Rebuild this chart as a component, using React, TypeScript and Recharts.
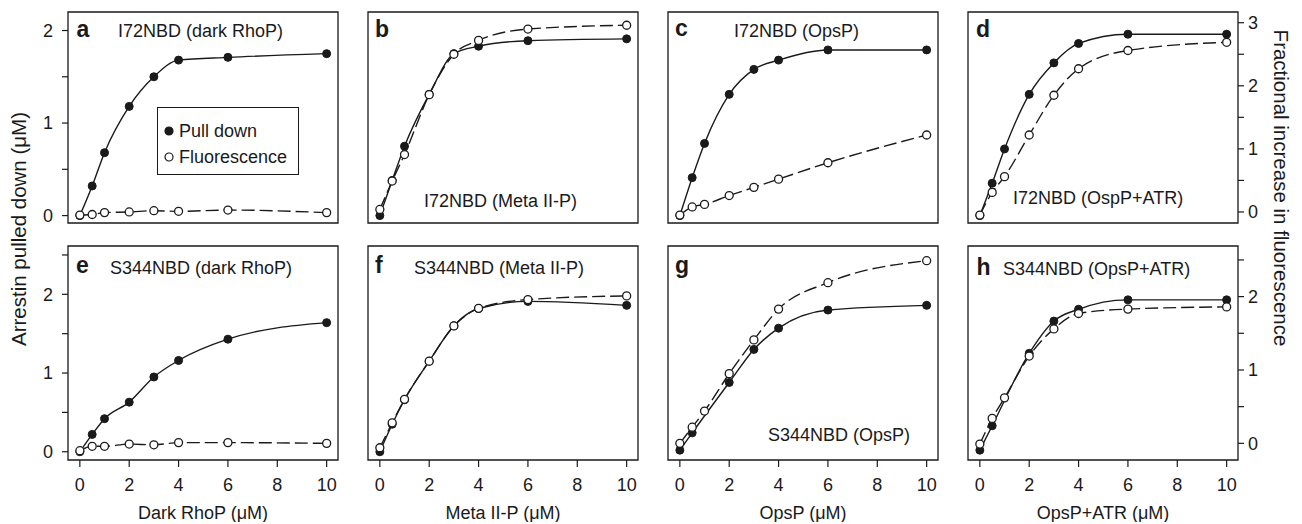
import { LineChart, Line, XAxis, YAxis, ReferenceArea, Legend } from 'recharts'

const FONT = '"Liberation Sans", Arial, Helvetica, sans-serif'
const INK = '#1a1a1a'

// concentrations (µM) used in every panel
const conc = [0, 0.5, 1, 2, 3, 4, 6, 10]
const xTicks = [0, 2, 4, 6, 8, 10]
const leftTicksTop = [0, 0.5, 1, 1.5, 2]
const leftTicksBottom = [0, 0.5, 1, 1.5, 2, 2.5]
const rightTicksTop = [0, 0.5, 1, 1.5, 2, 2.5, 3]
const rightTicksBottom = [0, 0.5, 1, 1.5, 2, 2.5]

// pull down (left axis, µM) / fluorescence increase (right axis)
const pullA = [0, 0.32, 0.68, 1.18, 1.5, 1.68, 1.71, 1.75]
const fluorA = [-0.05, -0.04, -0.01, 0.0, 0.02, 0.01, 0.03, -0.01]
const pullB = [0, 0.38, 0.75, 1.31, 1.75, 1.83, 1.89, 1.91]
const fluorB = [0.04, 0.49, 0.91, 1.86, 2.5, 2.72, 2.9, 2.96]
const pullC = [0, 0.41, 0.78, 1.31, 1.58, 1.68, 1.79, 1.79]
const fluorC = [-0.05, 0.08, 0.12, 0.26, 0.39, 0.52, 0.78, 1.22]
const pullD = [0, 0.35, 0.72, 1.31, 1.65, 1.86, 1.96, 1.96]
const fluorD = [-0.05, 0.31, 0.56, 1.22, 1.85, 2.27, 2.56, 2.69]
const pullE = [0, 0.22, 0.42, 0.63, 0.95, 1.16, 1.43, 1.64]
const fluorE = [-0.1, -0.04, -0.04, -0.01, -0.02, 0.01, 0.01, 0.0]
const pullF = [0, 0.35, 0.66, 1.15, 1.6, 1.82, 1.91, 1.86]
const fluorF = [-0.06, 0.28, 0.6, 1.12, 1.6, 1.84, 1.96, 2.01]
const pullG = [0.02, 0.24, null, 0.88, 1.3, 1.57, 1.8, 1.86]
const fluorG = [0.0, 0.22, 0.44, 0.95, 1.41, 1.83, 2.19, 2.49]
const pullH = [0.02, 0.33, null, 1.25, 1.66, 1.81, 1.93, 1.93]
const fluorH = [-0.01, 0.34, 0.62, 1.19, 1.56, 1.77, 1.83, 1.86]

const xLabels = ['Dark RhoP (μM)', 'Meta II-P (μM)', 'OpsP (μM)', 'OpsP+ATR (μM)']
const seriesNames = ['Pull down', 'Fluorescence']

const toPts = (ys: (number | null)[]) =>
  conc.map((x, i) => ({ x, y: ys[i] })).filter((p) => p.y !== null)

const AXW = 45
const XDOM: [number, number] = [-0.48, 10.46]

const rows = [
  { top: 12, h: 211, left: [-0.08, 2.2], right: [-0.175, 3.17], lt: leftTicksTop, rt: rightTicksTop },
  { top: 246, h: 214, left: [-0.105, 2.614], right: [-0.227, 2.69], lt: leftTicksBottom, rt: rightTicksBottom },
]

const panels = [
  { key: 'a', row: 0, col: 0, pull: pullA, fluor: fluorA, title: 'I72NBD (dark RhoP)', tx: 118, ty: 36.5, lx: 76.5, ly: 36.5 },
  { key: 'b', row: 0, col: 1, pull: pullB, fluor: fluorB, title: 'I72NBD (Meta II-P)', tx: 424, ty: 206.5, lx: 375, ly: 36.5 },
  { key: 'c', row: 0, col: 2, pull: pullC, fluor: fluorC, title: 'I72NBD (OpsP)', tx: 734, ty: 36.5, lx: 675, ly: 36 },
  { key: 'd', row: 0, col: 3, pull: pullD, fluor: fluorD, title: 'I72NBD (OspP+ATR)', tx: 1013, ty: 204, lx: 976, ly: 36.5 },
  { key: 'e', row: 1, col: 0, pull: pullE, fluor: fluorE, title: 'S344NBD (dark RhoP)', tx: 110, ty: 273.5, lx: 76, ly: 273 },
  { key: 'f', row: 1, col: 1, pull: pullF, fluor: fluorF, title: 'S344NBD (Meta II-P)', tx: 414, ty: 274, lx: 375, ly: 273 },
  { key: 'g', row: 1, col: 2, pull: pullG, fluor: fluorG, title: 'S344NBD (OpsP)', tx: 768, ty: 440.5, lx: 675, ly: 273 },
  { key: 'h', row: 1, col: 3, pull: pullH, fluor: fluorH, title: 'S344NBD (OpsP+ATR)', tx: 1003, ty: 275, lx: 976.5, ly: 275 },
]

const intOnly = (v: number) => (Number.isInteger(v) ? String(v) : '')
const tickStyle = { fill: INK, fontSize: 18, fontFamily: FONT }

const LegendBox = (props: any) => {
  const items = [...(props.payload || [])].sort(
    (a: any, b: any) => seriesNames.indexOf(a.value) - seriesNames.indexOf(b.value),
  )
  return (
    <div
      style={{
        boxSizing: 'border-box',
        width: 142,
        height: 68,
        border: `1.3px solid ${INK}`,
        background: '#fff',
        padding: '10px 0 0 6px',
        fontFamily: FONT,
        fontSize: 18,
        color: INK,
      }}
    >
      {items.map((e: any) => (
        <div key={e.value} style={{ display: 'flex', alignItems: 'center', height: 26 }}>
          <svg width={10} height={10} style={{ marginRight: 5 }}>
            <circle cx={5} cy={5} r={4} fill={e.value === 'Pull down' ? INK : '#fff'} stroke={INK} strokeWidth={1.2} />
          </svg>
          <span>{e.value}</span>
        </div>
      ))}
    </div>
  )
}

function Panel({ p }: { p: (typeof panels)[number] }) {
  const row = rows[p.row]
  const first = p.col === 0
  const last = p.col === 3
  const bottom = p.row === 1
  const boxLeft = 68 + 300 * p.col
  const chartLeft = boxLeft - AXW
  const chartTop = row.top - 5
  return (
    <div style={{ position: 'absolute', left: chartLeft, top: chartTop }}>
      <LineChart width={270 + 2 * AXW} height={5 + row.h + 62} margin={{ top: 5, right: 0, bottom: 0, left: 0 }}>
        <XAxis
          dataKey="x"
          type="number"
          domain={XDOM}
          ticks={xTicks}
          allowDataOverflow
          interval={0}
          height={62}
          axisLine={false}
          tickLine={{ stroke: INK, strokeWidth: 1.2 }}
          tickSize={7}
          tickMargin={11}
          tick={bottom ? tickStyle : false}
          label={
            bottom
              ? { value: xLabels[p.col], position: 'insideBottom', offset: 3, fill: INK, fontSize: 18, fontFamily: FONT }
              : undefined
          }
        />
        <YAxis
          yAxisId="left"
          orientation="left"
          type="number"
          width={AXW}
          domain={row.left}
          ticks={row.lt}
          allowDataOverflow
          interval={0}
          axisLine={false}
          tickLine={{ stroke: INK, strokeWidth: 1.2 }}
          tickSize={6}
          tickMargin={9}
          tick={first ? tickStyle : false}
          tickFormatter={intOnly}
        />
        <YAxis
          yAxisId="right"
          orientation="right"
          type="number"
          width={AXW}
          domain={row.right}
          ticks={row.rt}
          allowDataOverflow
          interval={0}
          axisLine={false}
          tickLine={{ stroke: INK, strokeWidth: 1.2 }}
          tickSize={6}
          tickMargin={4}
          tick={last ? tickStyle : false}
          tickFormatter={intOnly}
        />
        <ReferenceArea
          yAxisId="left"
          x1={XDOM[0]}
          x2={XDOM[1]}
          y1={row.left[0]}
          y2={row.left[1]}
          fill="none"
          stroke={INK}
          strokeWidth={1.3}
          ifOverflow="visible"
        />
        <Line
          yAxisId="left"
          name={seriesNames[0]}
          data={toPts(p.pull)}
          dataKey="y"
          type="monotone"
          stroke={INK}
          strokeWidth={1.4}
          dot={{ r: 4, fill: INK, stroke: INK, strokeWidth: 1 }}
          activeDot={false}
          isAnimationActive={false}
        />
        <Line
          yAxisId="right"
          name={seriesNames[1]}
          data={toPts(p.fluor)}
          dataKey="y"
          type="monotone"
          stroke={INK}
          strokeWidth={1.4}
          strokeDasharray="13 5"
          dot={{ r: 4, fill: '#fff', stroke: INK, strokeWidth: 1.3, strokeDasharray: 'none' }}
          activeDot={false}
          isAnimationActive={false}
        />
        {p.key === 'a' && (
          <Legend
            layout="vertical"
            align="center"
            verticalAlign="middle"
            content={LegendBox}
            wrapperStyle={{ left: 157 - chartLeft, top: 107 - chartTop, width: 142, height: 68 }}
          />
        )}
      </LineChart>
    </div>
  )
}

export default function App() {
  return (
    <div style={{ position: 'absolute', left: 0, top: 0, width: 1302, height: 524, background: '#fff', fontFamily: FONT }}>
      {panels.map((p) => (
        <Panel key={p.key} p={p} />
      ))}
      <svg width={1302} height={524} style={{ position: 'absolute', left: 0, top: 0, pointerEvents: 'none' }}>
        {panels.map((p) => (
          <g key={p.key} fill={INK} fontFamily={FONT}>
            <text x={p.lx} y={p.ly} fontSize={23} fontWeight="bold">
              {p.key}
            </text>
            <text x={p.tx} y={p.ty} fontSize={18}>
              {p.title}
            </text>
          </g>
        ))}
        <text
          transform="translate(18,229) rotate(-90)"
          textAnchor="middle"
          dominantBaseline="central"
          fontSize={20.5}
          fill={INK}
          fontFamily={FONT}
        >
          Arrestin pulled down (μM)
        </text>
        <text
          transform="translate(1281,188) rotate(90)"
          textAnchor="middle"
          dominantBaseline="central"
          fontSize={20.5}
          fill={INK}
          fontFamily={FONT}
        >
          Fractional increase in fluorescence
        </text>
      </svg>
    </div>
  )
}
